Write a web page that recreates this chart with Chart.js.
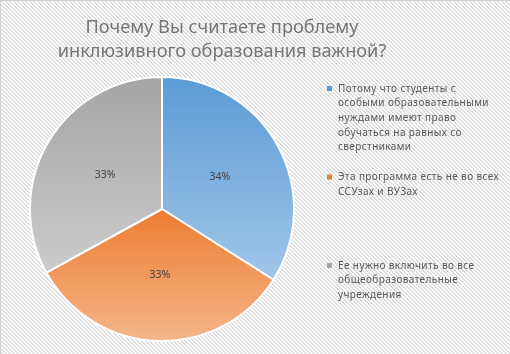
<!DOCTYPE html>
<html><head><meta charset="utf-8">
<script src="https://cdn.jsdelivr.net/npm/chart.js@4.4.1/dist/chart.umd.min.js"></script>
<style>html,body{margin:0;padding:0;background:#fff;overflow:hidden}canvas{display:block}</style>
</head><body>
<canvas id="c" width="510" height="354"></canvas>
<script>
// ---- data ----
const titleLines = ['Почему Вы считаете проблему', 'инклюзивного образования важной?'];
const categories = [
  ['Потому что студенты с', 'особыми образовательными', 'нуждами имеют право', 'обучаться на равных со', 'сверстниками'],
  ['Эта программа есть не во всех', 'ССУзах и ВУЗах'],
  ['Ее нужно включить во все', 'общеобразовательные', 'учреждения']
];
const values = [34, 33, 33];
const topColors = ['#5b9bd5', '#ed7d31', '#a5a5a5'];
const bottomColors = ['#a2c6e9', '#f5b68a', '#cccccc'];

const FONT = '"Noto Sans", "Liberation Sans", sans-serif';

function sliceGradient(c) {
  const chart = c.chart, ca = chart.chartArea, i = c.dataIndex;
  if (!ca || i === undefined) return topColors[i || 0];
  const cx = (ca.left + ca.right) / 2, cy = (ca.top + ca.bottom) / 2;
  const r = (Math.min(ca.right - ca.left, ca.bottom - ca.top) - 2) / 2;
  const total = values.reduce((a, b) => a + b, 0);
  let start = -Math.PI / 2;
  for (let k = 0; k < i; k++) start += values[k] / total * 2 * Math.PI;
  const end = start + values[i] / total * 2 * Math.PI;
  const ys = [cy, cy + r * Math.sin(start), cy + r * Math.sin(end)];
  for (const a of [-Math.PI / 2, Math.PI / 2, 3 * Math.PI / 2])
    if (a >= start - 1e-9 && a <= end + 1e-9) ys.push(cy + r * Math.sin(a));
  const y0 = Math.min(...ys), y1 = Math.max(...ys);
  const g = chart.ctx.createLinearGradient(0, y0, 0, y1);
  g.addColorStop(0, topColors[i]);
  g.addColorStop(1, bottomColors[i]);
  return g;
}

const backgroundPlugin = {
  id: 'bgHatch',
  beforeDraw(chart) {
    const ctx = chart.ctx, w = chart.width, h = chart.height;
    const tile = document.createElement('canvas');
    tile.width = 4; tile.height = 4;
    const t = tile.getContext('2d');
    t.fillStyle = '#ffffff'; t.fillRect(0, 0, 4, 4);
    t.fillStyle = '#dedede';
    for (let y = 0; y < 4; y++) for (let x = 0; x < 4; x++)
      if (((x - y) % 4 + 4) % 4 < 2) t.fillRect(x, y, 1, 1);
    ctx.save();
    ctx.fillStyle = ctx.createPattern(tile, 'repeat');
    ctx.fillRect(0, 0, w, h);
    ctx.fillStyle = '#d0d0d0';
    ctx.fillRect(0, 0, w, 1);
    ctx.fillRect(0, 0, 1, h);
    ctx.restore();
  }
};

const textPlugin = {
  id: 'texts',
  afterDraw(chart) {
    const ctx = chart.ctx;
    ctx.save();
    // title
    ctx.font = '18.2px ' + FONT;
    ctx.fillStyle = '#767676';
    ctx.textAlign = 'center';
    ctx.textBaseline = 'alphabetic';
    titleLines.forEach((l, k) => ctx.fillText(l, 222, 33 + k * 24));

    // data labels
    const meta = chart.getDatasetMeta(0);
    const total = values.reduce((a, b) => a + b, 0);
    ctx.font = '10.5px ' + FONT;
    ctx.fillStyle = '#404040';
    ctx.textBaseline = 'middle';
    meta.data.forEach((arc, i) => {
      const p = arc.getProps(['x', 'y', 'startAngle', 'endAngle', 'outerRadius'], true);
      const mid = (p.startAngle + p.endAngle) / 2;
      const rr = p.outerRadius / 2;
      ctx.fillText(Math.round(values[i] / total * 100) + '%', p.x + Math.cos(mid) * rr, p.y + Math.sin(mid) * rr);
    });

    // legend
    ctx.font = '10px ' + FONT;
    ctx.textAlign = 'left';
    if ('letterSpacing' in ctx) ctx.letterSpacing = '0.4px';
    categories.forEach((lines, i) => {
      const y0 = 89 + i * 88.5;
      ctx.fillStyle = topColors[i];
      ctx.fillRect(327, y0 - 3, 5, 5);
      ctx.fillStyle = '#595959';
      lines.forEach((l, k) => ctx.fillText(l, 338, y0 + k * 14.6));
    });
    ctx.restore();
  }
};

new Chart(document.getElementById('c'), {
  type: 'pie',
  data: {
    labels: categories,
    datasets: [{
      data: values,
      backgroundColor: sliceGradient,
      borderColor: '#ffffff',
      borderWidth: 2
    }]
  },
  options: {
    responsive: false,
    animation: false,
    devicePixelRatio: 1,
    layout: { padding: { left: 29, right: 215, top: 76, bottom: 12 } },
    plugins: { legend: { display: false }, title: { display: false }, tooltip: { enabled: false } }
  },
  plugins: [backgroundPlugin, textPlugin]
});
</script>
</body></html>
